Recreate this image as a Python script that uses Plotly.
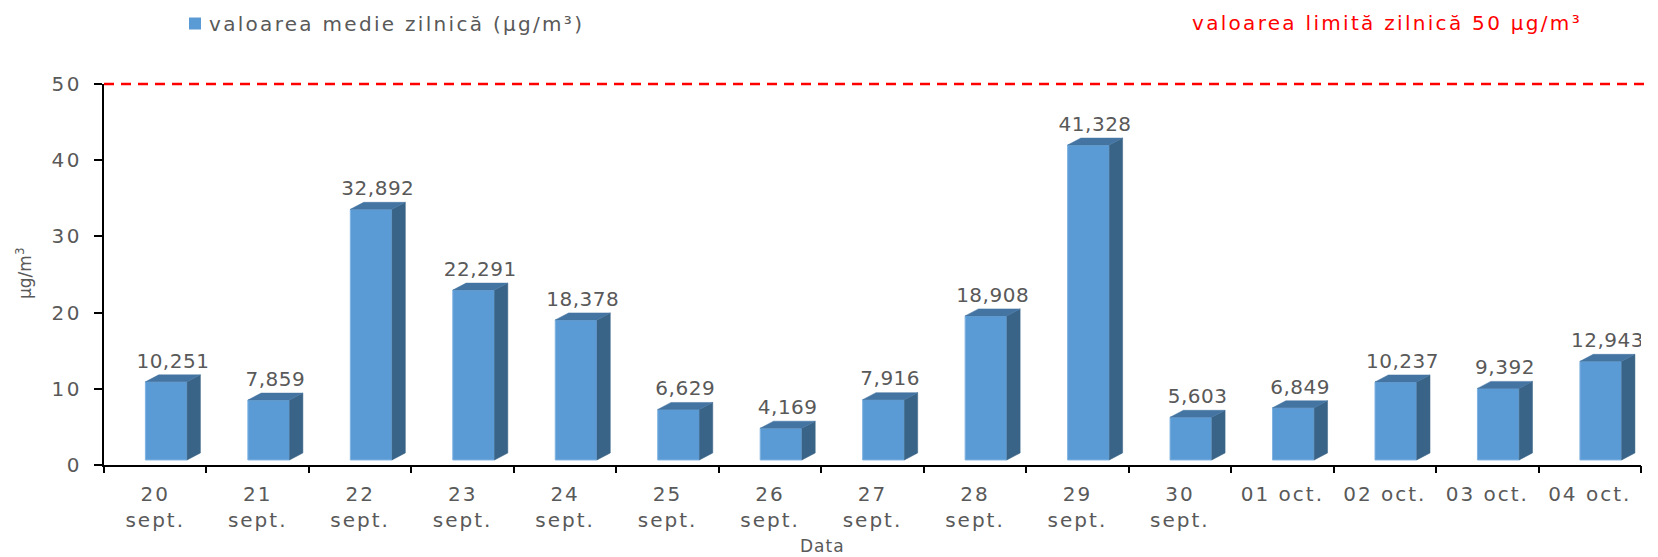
import plotly.graph_objects as go

categories = ["20<br>sept.", "21<br>sept.", "22<br>sept.", "23<br>sept.", "24<br>sept.",
              "25<br>sept.", "26<br>sept.", "27<br>sept.", "28<br>sept.", "29<br>sept.",
              "30<br>sept.", "01 oct.", "02 oct.", "03 oct.", "04 oct."]
values = [10.251, 7.859, 32.892, 22.291, 18.378, 6.629, 4.169, 7.916, 18.908, 41.328,
          5.603, 6.849, 10.237, 9.392, 12.943]
limit_value = 50
y_max = 50
y_ticks = [0, 10, 20, 30, 40, 50]
series_name = "valoarea medie zilnică (µg/m³)"
limit_name = "valoarea limită zilnică 50 µg/m³"

FONT = "DejaVu Sans"
TXT = "#595959"
FRONT = "#5B9BD5"
SIDE = "#3A6487"
TOP = "#4474A2"


def wide(s, px):
    return "<br>".join(f"<span style='letter-spacing:{px}px'>{p}</span>" for p in s.split("<br>"))


# 3D pseudo-depth styling (in axis units)
base = 0.66
bar_w = 0.407
bar_off = -0.096
dx = 0.13
dy = 0.92

n = len(values)
xs = list(range(n))

# plot area position on the page (px), used to place the free texts
PL, PT, PW, PH = 104, 84, 1537, 381


def px_x(x):
    return (x - PL) / PW


def px_y(y):
    return (PT + PH - y) / PH


fig = go.Figure()

# front faces
fig.add_trace(go.Bar(
    x=xs, y=values, base=[base] * n, width=bar_w, offset=bar_off,
    marker=dict(color=FRONT, line=dict(color="#7FB2E0", width=1)),
    showlegend=False, hoverinfo="skip"))

# side faces and top faces
sx, sy, tx, ty = [], [], [], []
for i, v in enumerate(values):
    L = i + bar_off
    R = L + bar_w
    t = base + v
    sx += [R, R + dx, R + dx, R, R, None]
    sy += [base, base + dy, t + dy, t, base, None]
    tx += [L, L + dx, R + dx, R, L, None]
    ty += [t, t + dy, t + dy, t, t, None]
fig.add_trace(go.Scatter(x=sx, y=sy, fill="toself", fillcolor=SIDE, mode="lines",
                         line=dict(color=SIDE, width=0.5), showlegend=False, hoverinfo="skip"))
fig.add_trace(go.Scatter(x=tx, y=ty, fill="toself", fillcolor=TOP, mode="lines",
                         line=dict(color=TOP, width=0.5), showlegend=False, hoverinfo="skip"))

# data labels
fig.add_trace(go.Scatter(
    x=[i + bar_off + (bar_w + dx) / 2 for i in xs],
    y=[base + v + dy + 1.6 for v in values],
    text=[wide(f"{v:.3f}".replace(".", ","), 0.5) for v in values],
    mode="text", textposition="middle center",
    textfont=dict(family=FONT, size=20, color=TXT),
    showlegend=False, hoverinfo="skip"))

# invisible trace for boundary-tick axis
fig.add_trace(go.Scatter(x=[-0.5, n - 0.5], y=[0, 0], mode="markers",
                         marker=dict(opacity=0), xaxis="x2", showlegend=False, hoverinfo="skip"))

# page has an 8px body margin: figure is 1650x549 placed at (8, 8)
fig.update_layout(
    width=1650, height=549,
    margin=dict(l=PL - 8, r=1658 - PL - PW, t=PT - 8, b=557 - PT - PH, autoexpand=False),
    paper_bgcolor="white", plot_bgcolor="white",
    font=dict(family=FONT, color=TXT),
    xaxis=dict(range=[-0.5, n - 0.5], tickvals=xs, ticktext=[wide(c, 2) for c in categories],
               automargin=False,
               showgrid=False, zeroline=False, showline=True, linecolor="black", linewidth=2,
               ticks="", tickfont=dict(family=FONT, size=20, color=TXT), ticklabelstandoff=10),
    xaxis2=dict(range=[-0.5, n - 0.5], overlaying="x", side="bottom", automargin=False,
                tickvals=[i - 0.5 for i in range(n + 1)], showticklabels=False,
                ticks="outside", ticklen=7, tickwidth=2, tickcolor="black",
                showgrid=False, zeroline=False, showline=False),
    yaxis=dict(range=[0, y_max], tickvals=y_ticks, ticktext=[wide(str(t), 2.5) for t in y_ticks],
               showgrid=False, zeroline=False, automargin=False,
               showline=True, linecolor="black", linewidth=2,
               ticks="outside", ticklen=8, tickwidth=2, tickcolor="black",
               tickfont=dict(family=FONT, size=20, color=TXT), ticklabelstandoff=8),
    shapes=[
        dict(type="line", xref="paper", yref="paper", x0=0, x1=px_x(1656),
             y0=limit_value / y_max, y1=limit_value / y_max, layer="above",
             line=dict(color="#FF0000", width=2.5, dash="10px,7px")),
        dict(type="rect", xref="paper", yref="paper",
             x0=px_x(189), x1=px_x(201), y0=px_y(29.5), y1=px_y(17.5),
             fillcolor=FRONT, line=dict(width=0)),
    ],
    annotations=[
        dict(text=wide(series_name, 2.3),
             xref="paper", yref="paper", x=px_x(207), y=px_y(24),
             xanchor="left", yanchor="middle", showarrow=False,
             font=dict(family=FONT, size=20, color=TXT)),
        dict(text=wide(limit_name, 2.3), xref="paper", yref="paper",
             x=px_x(1190), y=px_y(23.5),
             xanchor="left", yanchor="middle", showarrow=False,
             font=dict(family=FONT, size=20, color="#FF0000")),
        dict(text="µg/m<sup>3</sup>", xref="paper", yref="paper",
             x=px_x(24), y=px_y(274), textangle=-90,
             xanchor="center", yanchor="middle", showarrow=False,
             font=dict(family=FONT, size=17, color=TXT)),
        dict(text=wide("Data", 1), xref="paper", yref="paper",
             x=px_x(822), y=px_y(546),
             xanchor="center", yanchor="middle", showarrow=False,
             font=dict(family=FONT, size=17, color=TXT)),
    ],
)

fig.write_html("out.html")
